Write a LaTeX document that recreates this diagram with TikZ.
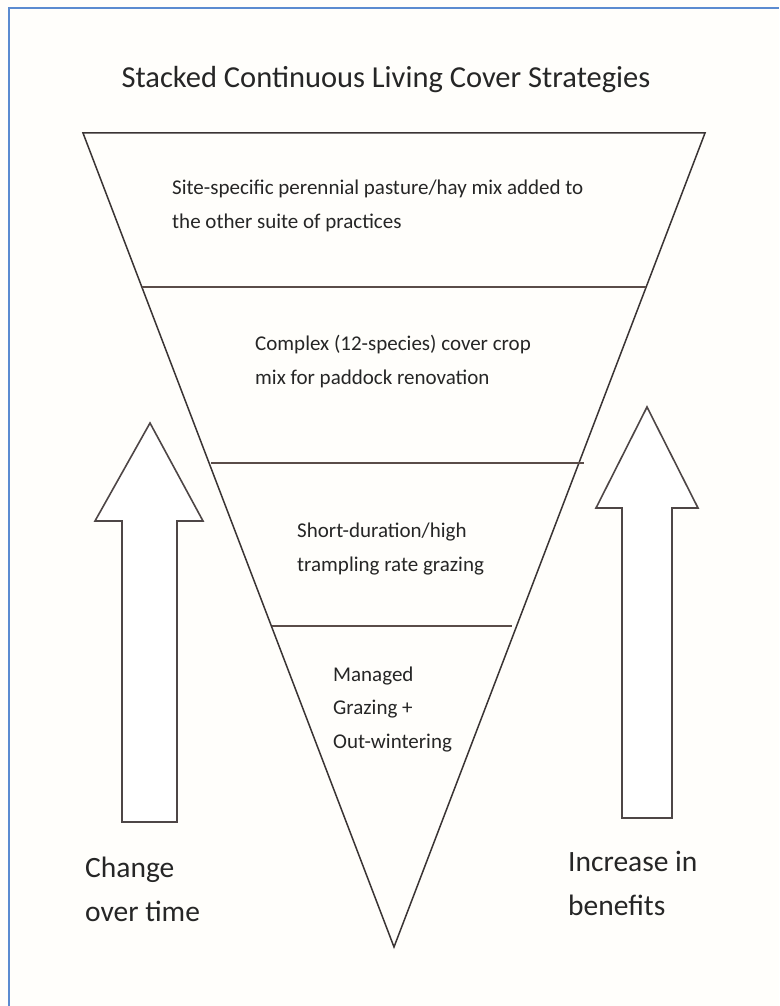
\documentclass[tikz,border=0pt]{standalone}
\usepackage{fontspec}
\setmainfont{Carlito}
\begin{document}
\begin{tikzpicture}[x=1pt,y=-1pt,
  outline/.style={draw=linecol,line width=1.5pt,line join=miter},
  divider/.style={draw=divcol,line width=2pt},
  arrowshape/.style={draw=arrowcol,line width=1.6pt,line join=miter,fill=white},
  bodytext/.style={inner sep=0pt,anchor=base west,align=left,text=txtcol,font=\fontsize{21}{33.5}\selectfont},
  sidetext/.style={inner sep=0pt,anchor=base west,align=left,text=txtcol,font=\fontsize{29.5}{44}\selectfont}]
\definecolor{bgcol}{HTML}{FFFEFB}
\definecolor{linecol}{HTML}{3A3434}
\definecolor{divcol}{HTML}{5A4C48}
\definecolor{arrowcol}{HTML}{4E4646}
\definecolor{txtcol}{HTML}{262626}
\definecolor{framecol}{HTML}{5B8BD0}
\useasboundingbox (0,0) rectangle (779,1006);
\fill[bgcol] (0,0) rectangle (779,1006);
% frame
\coordinate (fb) at (9,1006);
\coordinate (fc) at (9,8);
\coordinate (fr) at (779,8);
\draw[framecol,line width=1.5pt] (fb) -- (fc) -- (fr);
% title
\node[inner sep=0pt,anchor=base,text=txtcol,font=\fontsize{30.5}{36}\selectfont] (title) at (386,88) {Stacked Continuous Living Cover Strategies};
% triangle
\coordinate (A) at (83,133);
\coordinate (B) at (705,133);
\coordinate (C) at (394,947);
\draw[outline] (A) -- (B) -- (C) -- cycle;
% dividers
\coordinate (d1l) at (142,287);
\coordinate (d1r) at (646,287);
\coordinate (d2l) at (211,463);
\coordinate (d2r) at (584,463);
\coordinate (d3l) at (272,626);
\coordinate (d3r) at (512,626);
\draw[divider] (d1l) -- (d1r);
\draw[divider] (d2l) -- (d2r);
\draw[divider] (d3l) -- (d3r);
% arrows
\draw[arrowshape] (122,822) -- (122,521) -- (95,521) -- (150,423) -- (203,521) -- (177,521) -- (177,822) -- cycle;
\draw[arrowshape] (622,818) -- (622,508) -- (596,508) -- (647,407) -- (698,508) -- (672,508) -- (672,818) -- cycle;
% layer texts (anchor = baseline of last line)
\node[bodytext] (t1) at (172,228) {Site-specific perennial pasture/hay mix added to\\the other suite of practices};
\node[bodytext] (t2) at (255,384) {Complex (12-species) cover crop\\mix for paddock renovation};
\node[bodytext] (t3) at (297,571) {Short-duration/high\\trampling rate grazing};
\node[bodytext] (t4) at (333,748) {Managed\\Grazing +\\Out-wintering};
% side texts
\node[sidetext] (s1) at (85,921) {Change\\over time};
\node[sidetext] (s2) at (568,915) {Increase in\\benefits};
\end{tikzpicture}
\end{document}
